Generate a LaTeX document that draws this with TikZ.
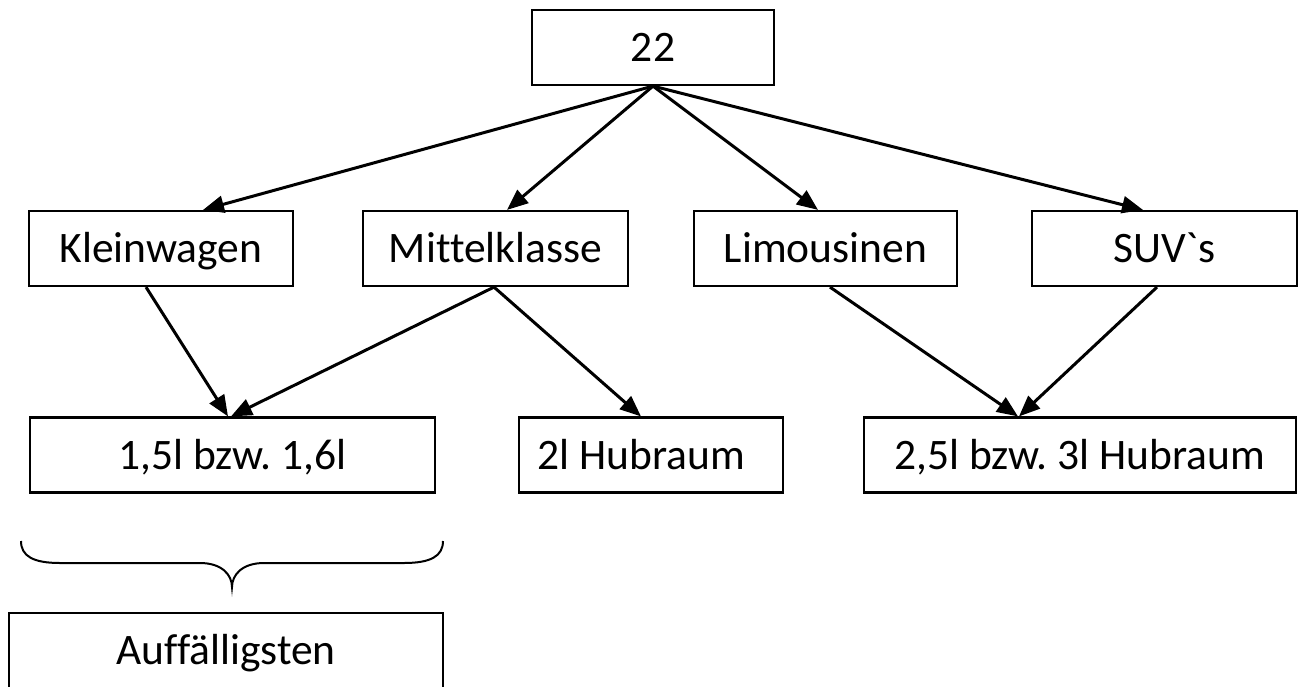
\documentclass[tikz,border=0pt]{standalone}
\usepackage{fontspec}
\setmainfont{Carlito}[Ligatures={TeXOff,CommonOff}]
\frenchspacing
\usetikzlibrary{arrows.meta}
\begin{document}
\begin{tikzpicture}[x=1pt,y=-1pt,
  box/.style={draw,line width=2.2pt,minimum height=75pt,inner sep=0pt,
    font=\fontsize{43.5}{52}\selectfont,text height=39pt,text depth=11pt},
  conn/.style={line width=3pt,-{Triangle[length=21pt,width=17pt]}},
  brace/.style={line width=2pt}]
\useasboundingbox (0,0) rectangle (1299,686);
% top level
\node[box,minimum width=242pt] (top) at (653,47.5) {22};
% categories
\node[box,minimum width=264pt] (klein)  at (161,248.5)   {Kleinwagen};
\node[box,minimum width=265pt] (mittel) at (495.5,248.5) {Mittelklasse};
\node[box,minimum width=263pt] (limo)   at (825.5,248.5) {Limousinen};
\node[box,minimum width=265pt] (suv)    at (1164.5,248.5) {SUV`s};
% displacement classes
\node[box,minimum width=405pt] (small)  at (232.5,455)  {1,5l bzw. 1,6l};
\node[box,minimum width=264pt] (mid)    at (651,455)    {\hspace*{-19pt}2l Hubraum};
\node[box,minimum width=432pt] (large)  at (1080,455)   {2,5l bzw. 3l Hubraum};
% summary
\node[box,minimum width=434pt] (auff)   at (226,650.5)  {Auffälligsten};
% connectors from the top box
\draw[conn] (top.south) -- ([xshift=42pt]klein.north);
\draw[conn] (top.south) -- ([xshift=11.5pt]mittel.north);
\draw[conn] (top.south) -- ([xshift=-7.5pt]limo.north);
\draw[conn] (top.south) -- ([xshift=-21.5pt]suv.north);
% connectors to the displacement classes
\draw[conn] ([xshift=-15pt]klein.south) -- ([xshift=-4.5pt]small.north);
\draw[conn] ([xshift=-1.5pt]mittel.south) -- ([xshift=-1.5pt]small.north);
\draw[conn] ([xshift=-1.5pt]mittel.south) -- ([xshift=-10pt]mid.north);
\draw[conn] ([xshift=4.5pt]limo.south) -- ([xshift=-62pt]large.north);
\draw[conn] ([xshift=-7.5pt]suv.south) -- ([xshift=-61pt]large.north);
% curly brace under the first class
\draw[brace] (21,541) .. controls (21,556) and (33,563) .. (60,563) -- (200,563)
  .. controls (222,563) and (232,575) .. (232,587)
  .. controls (232,575) and (242,563) .. (264,563) -- (404,563)
  .. controls (431,563) and (443,556) .. (443,541);
\end{tikzpicture}
\end{document}
